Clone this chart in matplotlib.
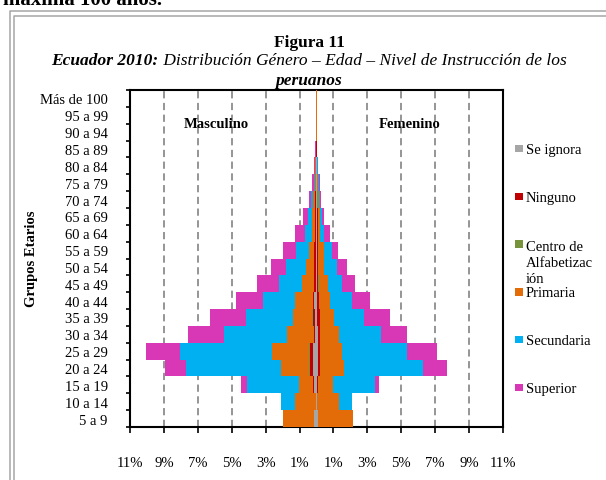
import matplotlib
matplotlib.use("Agg")
import matplotlib.pyplot as plt
import numpy as np
from matplotlib.lines import Line2D
from matplotlib.patches import Rectangle
from matplotlib.ticker import FuncFormatter

plt.rcParams["font.family"] = ["Liberation Serif", "DejaVu Serif"]

# age groups, bottom to top
age_groups = ["5 a 9", "10 a 14", "15 a 19", "20 a 24", "25 a 29", "30 a 34",
              "35 a 39", "40 a 44", "45 a 49", "50 a 54", "55 a 59", "60 a 64",
              "65 a 69", "70 a 74", "75 a 79", "80 a 84", "85 a 89", "90 a 94",
              "95 a 99", "Más de 100"]

levels = ["Se ignora", "Ninguno", "Centro de\nAlfabetizac\nión",
          "Primaria", "Secundaria", "Superior"]

# % of population, male
se_ignora_m = [.13, .05, .14, .18, .18, .06, .06, .15, .05, .04,
               .03, .02, .02, .02, .01, .01, 0, 0, 0, 0]
ninguno_m = [0, 0, .04, .23, .23, .10, .16, .05, .08, .08,
             .10, .06, .05, .04, .02, .01, .005, 0, 0, 0]
centro_m = [0, 0, 0, .01, .04, .01, .02, .02, .02, .02,
            .02, .02, .02, .02, .01, .01, .005, 0, 0, 0]
primaria_m = [1.87, 1.19, .86, 1.67, 2.20, 1.56, 1.13, 1.04, .68, .45,
              .32, .18, .19, .12, .06, .03, .01, .005, .005, .03]
secundaria_m = [0, .88, 3.08, 5.58, 5.42, 3.75, 2.81, 1.92, 1.41, 1.18,
                .71, .37, .23, .11, .06, .03, .02, .005, .03, 0]
superior_m = [0, 0, .36, 1.24, 2.01, 2.12, 2.13, 1.59, 1.24, .94,
              .82, .59, .26, .14, .08, .03, .04, .03, 0, 0]

# % of population, female
se_ignora_f = [.06, .02, .02, .06, .06, .06, .02, .02, .02, .02,
               .02, .01, .01, .01, .01, .005, 0, 0, 0, 0]
ninguno_f = [0, 0, .08, .12, .12, .16, .16, .13, .08, .06,
             .05, .05, .05, .04, .02, .01, 0, 0, 0, 0]
centro_f = [0, 0, 0, .01, .01, .01, .01, .01, .02, .02,
            .02, .02, .02, .01, .01, .005, 0, 0, 0, 0]
primaria_f = [2.12, 1.28, .88, 1.46, 1.34, 1.07, .87, .66, .55, .33,
              .34, .12, .10, .06, .04, .02, .01, 0, 0, .03]
secundaria_f = [0, .80, 2.46, 4.66, 3.81, 2.51, 1.77, 1.30, .86, .75,
                .47, .27, .17, .10, .06, .02, .01, .005, .02, 0]
superior_f = [0, 0, .27, 1.39, 1.77, 1.53, 1.51, 1.04, .77, .61,
              .38, .30, .12, .07, .04, .02, .02, .02, 0, 0]

x_ticks = [-11, -9, -7, -5, -3, -1, 1, 3, 5, 7, 9, 11]

colors = ["#A6A6A6", "#C00000", "#77933C", "#E36C09", "#00B0F0", "#D838B5"]

W, H = 606, 481


def fx(px):
    return px / W


def fy(py):
    return 1 - py / H


def draw_side(ax, series, sign):
    y = np.arange(len(age_groups))
    left = np.zeros(len(age_groups))
    for vals, col in zip(series, colors):
        v = sign * np.array(vals, dtype=float)
        ax.barh(y, v, left=left, height=1.0, color=col, linewidth=0, zorder=3)
        left += v


def main():
    fig = plt.figure(figsize=(W / 100, H / 100), dpi=100)
    ax = fig.add_axes([fx(130), fy(428), 373 / W, 337 / H])

    draw_side(ax, [se_ignora_m, ninguno_m, centro_m,
                   primaria_m, secundaria_m, superior_m], -1)
    draw_side(ax, [se_ignora_f, ninguno_f, centro_f,
                   primaria_f, secundaria_f, superior_f], 1)

    ax.set_xlim(-11, 11)
    ax.set_ylim(-0.5, len(age_groups) - 0.5)
    ax.set_xticks(x_ticks)
    ax.xaxis.set_major_formatter(FuncFormatter(lambda v, p: f"{abs(v):.0f}%"))
    ax.tick_params(axis="x", length=4, width=1.2, pad=17, labelsize=10.5)

    ax.set_yticks(np.arange(-0.5, len(age_groups), 1.0))
    ax.set_yticklabels([])
    ax.set_yticks(np.arange(len(age_groups)), minor=True)
    ax.set_yticklabels(age_groups, minor=True)
    ax.tick_params(axis="y", which="major", length=3, width=1.2)
    ax.tick_params(axis="y", which="minor", length=0, pad=16, labelsize=10.5)

    ax.set_axisbelow(True)
    ax.grid(axis="x", linestyle=(0, (4, 2.5)), color="#8c8c8c", lw=1.3)
    for s in ax.spines.values():
        s.set_linewidth(1.5)
        s.set_color("black")

    fig.text(fx(32), fy(259), "Grupos Etarios", rotation=90, ha="center",
             va="center", weight="bold", size=10.5)
    fig.text(fx(216), fy(125), "Masculino", ha="center", va="center",
             weight="bold", size=10.5)
    fig.text(fx(410), fy(125), "Femenino", ha="center", va="center",
             weight="bold", size=10.5)

    # titles
    fig.text(fx(309), fy(43), "Figura 11", ha="center", va="center",
             weight="bold", size=12.5)
    r = fig.canvas.get_renderer()
    t1 = fig.text(0, fy(61), "Ecuador 2010:", style="italic", weight="bold",
                  size=12.5, va="center")
    t2 = fig.text(0, fy(61), " Distribución Género – Edad – Nivel de Instrucción de los",
                  style="italic", size=12.5, va="center")
    w1 = t1.get_window_extent(r).width
    w2 = t2.get_window_extent(r).width
    x0 = 309 - (w1 + w2) / 2
    t1.set_x(fx(x0))
    t2.set_x(fx(x0 + w1))
    fig.text(fx(309), fy(81), "peruanos", ha="center", va="center",
             style="italic", weight="bold", size=12.5)

    # legend, drawn by hand to keep Excel's spacing
    line_h = 16.5
    for i, (lab, col) in enumerate(zip(levels, colors)):
        yc = 149.5 + i * 47.8
        fig.add_artist(Rectangle((fx(515), fy(yc + 3.75)), 7.5 / W, 7.5 / H,
                                 transform=fig.transFigure, color=col, lw=0))
        # baseline alignment uses the last line of a wrapped label
        extra = lab.count("\n") * line_h
        fig.text(fx(526), fy(yc + 4.5 + extra), lab, va="baseline", ha="left",
                 size=10.5, linespacing=1.3)

    # document frame and cut-off text above it
    fig.text(fx(3), fy(5), "máxima 100 años.", weight="bold", size=15,
             va="baseline")
    for p in (9.5, 14):
        fig.add_artist(Line2D([fx(p), fx(p), fx(W)], [0, fy(p + 2.5), fy(p + 2.5)],
                              color="#a6a6a6", lw=1.1, transform=fig.transFigure))

    fig.savefig("out.png", dpi=100)


if __name__ == "__main__":
    main()
